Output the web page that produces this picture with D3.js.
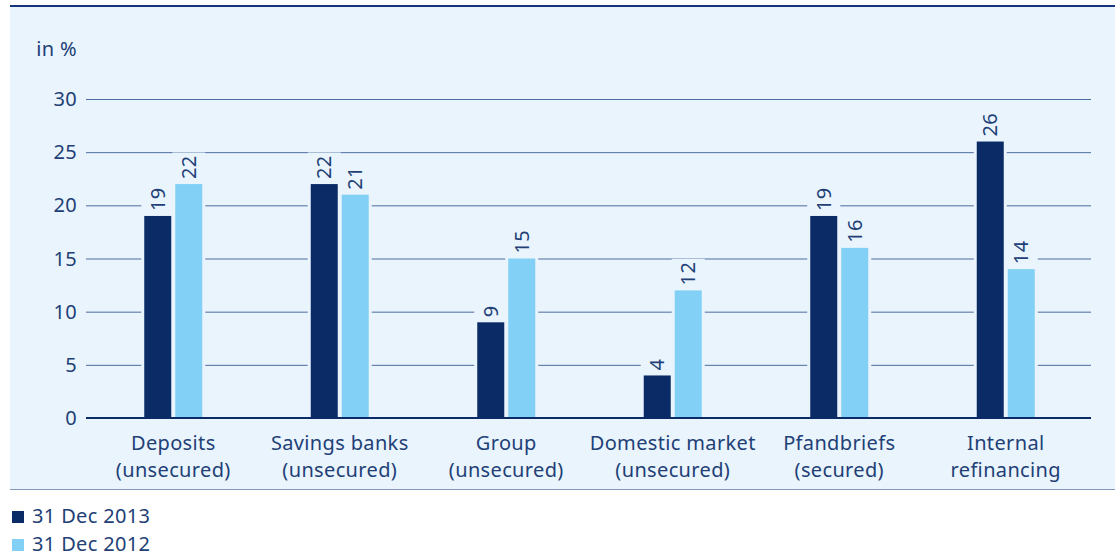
<!DOCTYPE html>
<html>
<head>
<meta charset="utf-8">
<script src="https://cdn.jsdelivr.net/npm/d3@7"></script>
<style>
  body { margin: 0; background: #fff; }
  text { font-family: "Noto Sans", "Open Sans", sans-serif; fill: #223f76; letter-spacing: 0.35px; }
</style>
</head>
<body>
<svg id="chart" width="1115" height="557"></svg>
<script>
// data
const categories = [
  ["Deposits", "(unsecured)"],
  ["Savings banks", "(unsecured)"],
  ["Group", "(unsecured)"],
  ["Domestic market", "(unsecured)"],
  ["Pfandbriefs", "(secured)"],
  ["Internal", "refinancing"]
];
const series = ["31 Dec 2013", "31 Dec 2012"];
const values2013 = [19, 22, 9, 4, 19, 26];
const values2012 = [22, 21, 15, 12, 16, 14];
const yTicks = [0, 5, 10, 15, 20, 25, 30];

const colors = ["#0b2b67", "#82d0f5"];
const bg = "#e9f4fd";

let svg = d3.select("#chart");

// panel
svg.append("rect")
  .attr("x", 10).attr("y", 6)
  .attr("width", 1105).attr("height", 483)
  .attr("fill", bg);
svg.append("line")
  .attr("x1", 10).attr("x2", 1115)
  .attr("y1", 6).attr("y2", 6)
  .attr("stroke", "#15357a").attr("stroke-width", 2);
svg.append("line")
  .attr("x1", 10).attr("x2", 1115)
  .attr("y1", 489.5).attr("y2", 489.5)
  .attr("stroke", "#8597b8").attr("stroke-width", 1);

let names = categories.map(c => c.join(" "));

let x0 = d3.scaleBand()
  .domain(names)
  .range([90, 1089]);

let x1 = d3.scaleBand()
  .domain(series)
  .range([-29, 29])
  .paddingInner(0.129);

let y = d3.scaleLinear()
  .domain([0, 30])
  .range([418, 99]);

// gridlines
svg.append("g")
  .selectAll("line")
  .data(yTicks.filter(d => d > 0))
  .enter().append("line")
  .attr("x1", 86).attr("x2", 1091)
  .attr("y1", d => y(d) + 0.5).attr("y2", d => y(d) + 0.5)
  .attr("stroke", "#4d6b9e").attr("stroke-width", 1);

// tick labels
svg.append("g")
  .selectAll("text")
  .data(yTicks)
  .enter().append("text")
  .attr("x", 77)
  .attr("y", d => y(d))
  .attr("dy", "0.35em")
  .attr("text-anchor", "end")
  .style("font-size", "20px")
  .text(d => d);

svg.append("text")
  .attr("x", 77).attr("y", 56)
  .attr("text-anchor", "end")
  .style("font-size", "20px")
  .text("in %");

let rows = [];
names.forEach((n, i) => {
  rows.push({ cat: n, s: series[0], v: values2013[i], c: colors[0] });
  rows.push({ cat: n, s: series[1], v: values2012[i], c: colors[1] });
});

let masks = svg.append("g");
let bars = svg.append("g");
let labels = svg.append("g");

let bx = d => x0(d.cat) + x0.bandwidth() / 2 + x1(d.s);

labels.selectAll("text")
  .data(rows)
  .enter().append("text")
  .attr("transform", d =>
    "translate(" + (bx(d) + x1.bandwidth() / 2) + "," + (y(d.v) - 5) + ") rotate(-90)")
  .attr("dy", "0.35em")
  .style("font-size", "20px")
  .text(d => d.v)
  .each(function(d) { d.len = this.getComputedTextLength(); });

masks.selectAll("rect")
  .data(rows)
  .enter().append("rect")
  .attr("x", d => bx(d) - 3)
  .attr("width", x1.bandwidth() + 6)
  .attr("y", d => y(d.v) - 5 - d.len - 3)
  .attr("height", d => y(0) - (y(d.v) - 5 - d.len - 3))
  .attr("fill", bg);

bars.selectAll("rect")
  .data(rows)
  .enter().append("rect")
  .attr("x", bx)
  .attr("width", x1.bandwidth())
  .attr("y", d => y(d.v))
  .attr("height", d => y(0) - y(d.v))
  .attr("fill", d => d.c);

// baseline
svg.append("line")
  .attr("x1", 86).attr("x2", 1091)
  .attr("y1", y(0)).attr("y2", y(0))
  .attr("stroke", "#0b2b67").attr("stroke-width", 2);

// category labels
let cat = svg.append("g")
  .selectAll("text")
  .data(categories)
  .enter().append("text")
  .attr("text-anchor", "middle")
  .style("font-size", "20px");
cat.append("tspan")
  .attr("x", (d, i) => x0(names[i]) + x0.bandwidth() / 2)
  .attr("y", 450)
  .text(d => d[0]);
cat.append("tspan")
  .attr("x", (d, i) => x0(names[i]) + x0.bandwidth() / 2)
  .attr("y", 477)
  .text(d => d[1]);

// legend
let lg = svg.append("g")
  .selectAll("g")
  .data(series)
  .enter().append("g")
  .attr("transform", (d, i) => "translate(12," + (511 + i * 28) + ")");
lg.append("rect")
  .attr("width", 12).attr("height", 12)
  .attr("fill", (d, i) => colors[i]);
lg.append("text")
  .attr("x", 20).attr("y", 12)
  .style("font-size", "20px")
  .text(d => d);
</script>
</body>
</html>
